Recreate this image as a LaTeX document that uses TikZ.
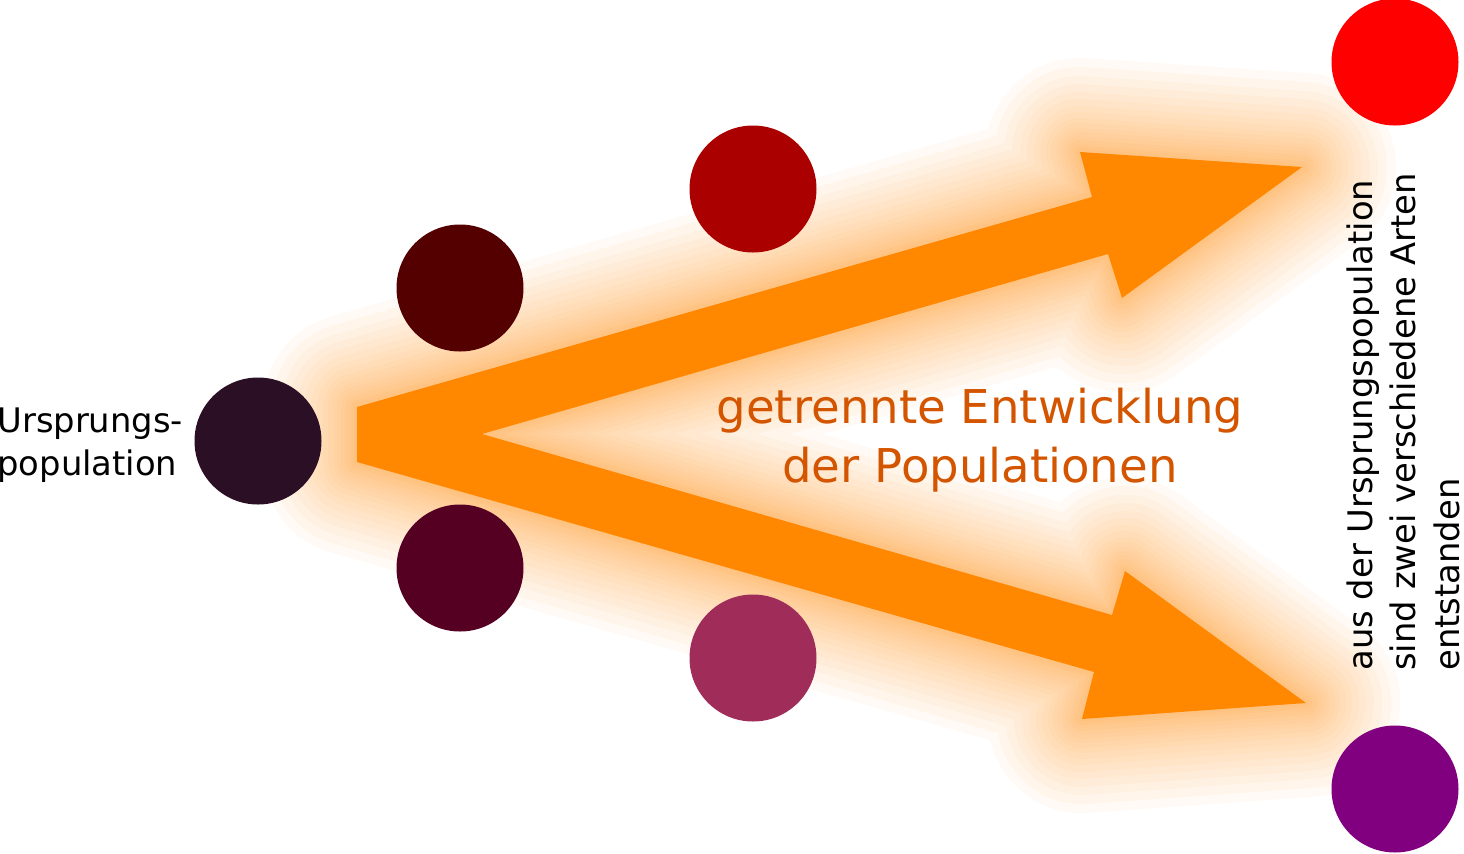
\documentclass[tikz,border=0pt]{standalone}
\usepackage{fontspec}
\setmainfont{DejaVu Sans}
\definecolor{arrowc}{HTML}{FF8800}
\definecolor{glowc}{HTML}{FF8C10}
\definecolor{textc}{HTML}{D45500}
\definecolor{origc}{HTML}{2B0F24}
\definecolor{upa}{HTML}{550000}
\definecolor{upb}{HTML}{AA0000}
\definecolor{upc}{HTML}{FF0000}
\definecolor{lowa}{HTML}{550022}
\definecolor{lowb}{HTML}{A02C5A}
\definecolor{lowc}{HTML}{800080}
\tikzset{
pop/.style={ % one population
circle,
minimum size=63.5pt,
inner sep=0pt},
smalltext/.style={ % black side labels
inner sep=0pt,
align=left,
font=\fontsize{16.9}{21.8}\selectfont},
glow/.style={ % halo round the arrows
draw=glowc,
draw opacity=0.045,
line join=round}}

\begin{document}
\begin{tikzpicture}[x=0.5pt, y=-0.5pt]
\useasboundingbox (0,0) rectangle (1464,853);
% outline of the two arrows
\coordinate (start top) at (357,407);
\coordinate (up shaft a) at (1092,197);
\coordinate (up head a) at (1080,152);
\coordinate (up tip) at (1302,167);
\coordinate (up head b) at (1122,298);
\coordinate (up shaft b) at (1108,254);
\coordinate (fork) at (482,434);
\coordinate (low shaft a) at (1112,615);
\coordinate (low head a) at (1125,571);
\coordinate (low tip) at (1306,703);
\coordinate (low head b) at (1082,719);
\coordinate (low shaft b) at (1094,672);
\coordinate (start bottom) at (357,462);

\foreach \w in {3,6,9,12,16,20,24,29,34,40,46,53,60,68,76,85,94}
\draw[glow, line width=\w pt] (start top) -- (up shaft a) -- (up head a) -- (up tip)
  -- (up head b) -- (up shaft b) -- (fork) -- (low shaft a) -- (low head a)
  -- (low tip) -- (low head b) -- (low shaft b) -- (start bottom) -- cycle;
\fill[arrowc] (start top) -- (up shaft a) -- (up head a) -- (up tip)
  -- (up head b) -- (up shaft b) -- (fork) -- (low shaft a) -- (low head a)
  -- (low tip) -- (low head b) -- (low shaft b) -- (start bottom) -- cycle;

% populations
\node[pop, fill=origc] (origin) at (258,441) {};
\node[pop, fill=upa] (up1) at (460,288) {};
\node[pop, fill=upb] (up2) at (753,189) {};
\node[pop, fill=upc] (up3) at (1395,62) {};
\node[pop, fill=lowa] (low1) at (460,568) {};
\node[pop, fill=lowb] (low2) at (753,658) {};
\node[pop, fill=lowc] (low3) at (1395,789) {};

% labels
\node[smalltext, anchor=north west] (origin label) at (-3,407) {Ursprungs-\\population};
\node[inner sep=0pt, align=center, anchor=north, text=textc,
  font=\fontsize{23.3}{29.5}\selectfont] (split label) at (980,388)
  {getrennte Entwicklung\\der Populationen};
\node[smalltext, rotate=90, anchor=north west] (result label) at (1346,671)
  {aus der Ursprungspopulation\\sind zwei verschiedene Arten\\entstanden};
\end{tikzpicture}
\end{document}
